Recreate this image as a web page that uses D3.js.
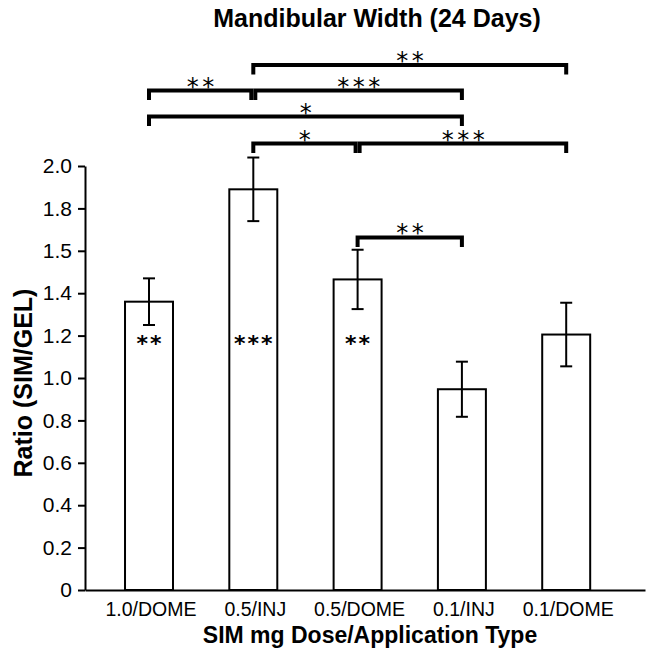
<!DOCTYPE html>
<html>
<head>
<meta charset="utf-8">
<script src="https://cdn.jsdelivr.net/npm/d3@7"></script>
<style>
  html, body { margin: 0; padding: 0; background: #fff; }
  svg { display: block; }
</style>
</head>
<body>
<svg id="chart" width="651" height="661"></svg>
<script>
// ---- data ----
const categories = ["1.0/DOME", "0.5/INJ", "0.5/DOME", "0.1/INJ", "0.1/DOME"];
const means = [1.36, 1.89, 1.465, 0.947, 1.205];
const errors = [0.11, 0.15, 0.14, 0.13, 0.15];
const barStars = ["**", "***", "**", "", ""];
const yTicks = [0, 0.2, 0.4, 0.6, 0.8, 1.0, 1.2, 1.4, 1.6, 1.8, 2.0];
const yTickLabels = ["0", "0.2", "0.4", "0.6", "0.8", "1.0", "1.2", "1.4", "1.5", "1.8", "2.0"];
// significance brackets
const compFrom  = ["0.5/INJ", "1.0/DOME", "0.5/INJ", "1.0/DOME", "0.5/INJ", "0.5/DOME", "0.5/DOME"];
const compTo    = ["0.1/DOME", "0.5/INJ", "0.1/INJ", "0.1/INJ", "0.5/DOME", "0.1/DOME", "0.1/INJ"];
const compLabel = ["**", "**", "***", "*", "*", "***", "**"];
const compLevel = [2.476, 2.356, 2.356, 2.233, 2.106, 2.106, 1.663];

const titleText = "Mandibular Width (24 Days)";
const xTitle = "SIM mg Dose/Application Type";
const yTitle = "Ratio (SIM/GEL)";

// ---- drawing ----
const svg = d3.select("#chart");
const FONT = "'Liberation Sans', Arial, sans-serif";
const STAR_FONT = "'DejaVu Sans', sans-serif";

const x = d3.scaleBand()
  .domain(categories)
  .range([85, 645])
  .paddingInner(0.54)
  .paddingOuter(0.4546)
  .align(0.422);

const y = d3.scaleLinear().domain([0, 2]).range([590, 166]);

// title
svg.append("text")
  .attr("x", 377).attr("y", 27)
  .attr("text-anchor", "middle")
  .attr("font-family", FONT).attr("font-weight", "bold").attr("font-size", 25)
  .text(titleText);

// bars
const cx = c => x(c) + x.bandwidth() / 2;
svg.append("g").selectAll("rect").data(categories).join("rect")
  .attr("x", d => x(d))
  .attr("y", (d, i) => y(means[i]))
  .attr("width", x.bandwidth())
  .attr("height", (d, i) => y(0) - y(means[i]))
  .attr("fill", "#fff").attr("stroke", "#000").attr("stroke-width", 2);

// error bars
const eb = svg.append("g").attr("stroke", "#000").attr("stroke-width", 2);
categories.forEach((c, i) => {
  const xc = cx(c);
  eb.append("line").attr("x1", xc).attr("x2", xc)
    .attr("y1", y(means[i] + errors[i])).attr("y2", y(means[i] - errors[i]));
  [means[i] + errors[i], means[i] - errors[i]].forEach(v => {
    eb.append("line").attr("x1", xc - 6).attr("x2", xc + 6)
      .attr("y1", y(v)).attr("y2", y(v));
  });
});

// stars inside bars
svg.append("g").selectAll("text").data(categories).join("text")
  .attr("x", d => cx(d) + 1)
  .attr("y", 351)
  .attr("text-anchor", "middle")
  .attr("font-family", STAR_FONT).attr("font-weight", "bold").attr("font-size", 22)
  .attr("letter-spacing", 2)
  .text((d, i) => barStars[i]);

// y axis
const yAxis = svg.append("g").attr("transform", "translate(85,0)")
  .call(d3.axisLeft(y).tickValues(yTicks)
    .tickFormat((d, i) => yTickLabels[i])
    .tickSize(7).tickSizeOuter(0).tickPadding(6));
yAxis.selectAll("path,line").attr("stroke", "#000").attr("stroke-width", 2);
yAxis.selectAll("text").attr("font-family", FONT).attr("font-size", 21).attr("fill", "#000");

// x axis
const xAxis = svg.append("g").attr("transform", "translate(0,590)")
  .call(d3.axisBottom(x).tickSize(0).tickSizeOuter(0).tickPadding(12));
xAxis.select("path").attr("stroke", "#000").attr("stroke-width", 2);
xAxis.selectAll("text").attr("font-family", FONT).attr("font-size", 19.5).attr("fill", "#000")
  .attr("dx", 2);

// axis titles
svg.append("text")
  .attr("x", 370).attr("y", 643)
  .attr("text-anchor", "middle")
  .attr("font-family", FONT).attr("font-weight", "bold").attr("font-size", 23)
  .text(xTitle);

svg.append("text")
  .attr("transform", "translate(32,383) rotate(-90)")
  .attr("text-anchor", "middle")
  .attr("font-family", FONT).attr("font-weight", "bold").attr("font-size", 25)
  .text(yTitle);

// significance brackets
const br = svg.append("g");
const leg = 9.5;
compFrom.forEach((f, i) => {
  let x1 = cx(f), x2 = cx(compTo[i]);
  const lv = compLevel[i];
  // nudge shared endpoints on the same row
  compFrom.forEach((f2, j) => {
    if (j === i || compLevel[j] !== lv) return;
    if (compTo[j] === f) x1 += 2;
    if (f2 === compTo[i]) x2 -= 2;
  });
  const yl = y(lv);
  br.append("path")
    .attr("d", `M${x1},${yl + leg}V${yl}H${x2}V${yl + leg}`)
    .attr("fill", "none").attr("stroke", "#000").attr("stroke-width", 4)
    .attr("stroke-linejoin", "miter");
  br.append("text")
    .attr("x", (x1 + x2) / 2 + 2)
    .attr("y", yl + 4)
    .attr("text-anchor", "middle")
    .attr("font-family", STAR_FONT).attr("font-size", 24)
    .attr("letter-spacing", 3.5)
    .text(compLabel[i]);
});
</script>
</body>
</html>
